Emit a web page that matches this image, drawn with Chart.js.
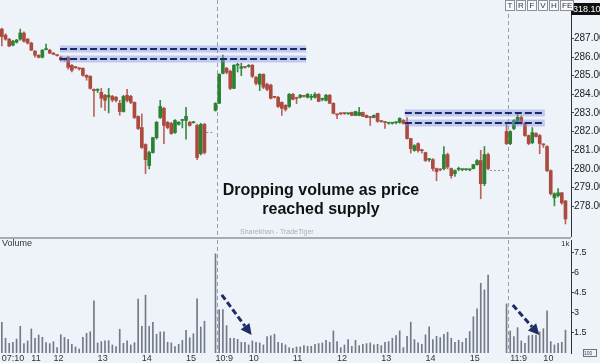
<!DOCTYPE html>
<html>
<head>
<meta charset="utf-8">
<title>Dropping volume as price reached supply</title>
<script src="https://cdn.jsdelivr.net/npm/chart.js@4.4.1/dist/chart.umd.min.js"></script>
<style>
  html, body { margin: 0; padding: 0; background: #eef3fa; overflow: hidden; }
  #wrap { position: relative; width: 600px; height: 363px; font-family: "Liberation Sans", Arial, sans-serif; }
  canvas { position: absolute; left: 0; }
  #price { top: 0; }
  #vol { top: 237px; }
  .txt { position: absolute; white-space: nowrap; }
  #sep { position: absolute; left: 0; top: 237px; width: 571px; height: 2px; background: #a7abb3; }
  #note { left: 211px; top: 180px; width: 220px; text-align: center; font-weight: bold; font-size: 16px; line-height: 19px; color: #111; }
  #brand { left: 240px; top: 228px; font-size: 7px; color: #a9adb6; }
  #volTitle { left: 2px; top: 238px; font-size: 9px; line-height: 10px; color: #333; }
  #unit { left: 561px; top: 239px; font-size: 8px; line-height: 9px; color: #333; }
  #last { left: 571px; top: 3px; width: 29px; height: 12px; background: #111; color: #fff; font-size: 9px; line-height: 12px; padding-left: 2px; box-sizing: border-box; }
  #tools { left: 505px; top: 0; display: flex; font-size: 8px; line-height: 9px; color: #333; }
  #tools span { border: 1px solid #8a8f98; background: #f6f9fd; padding: 0 1px; min-width: 6px; text-align: center; margin-right: 1px; }
  #zoomBox { left: 583px; top: 349px; width: 12px; height: 6px; border: 1px solid #6d727c; font-size: 5px; line-height: 6px; color: #444; }
</style>
</head>
<body>
<div id="wrap">
  <canvas id="price" width="600" height="237"></canvas>
  <canvas id="vol" width="600" height="126"></canvas>
  <div id="sep"></div>
  <div class="txt" id="note">Dropping volume as price<br>reached supply</div>
  <div class="txt" id="brand">Sharekhan - TradeTiger</div>
  <div class="txt" id="volTitle">Volume</div>
  <div class="txt" id="unit">1k</div>
  <div class="txt" id="last">318.10</div>
  <div class="txt" id="tools"><span>T</span><span>R</span><span>F</span><span>V</span><span>H</span><span>FE</span></div>
  <div class="txt" id="zoomBox">100</div>
</div>
<script>
// 5 minute candles, three sessions; null = empty slots between sessions
const open = [
  287.50,287.18,286.96,286.64,286.80,286.96,287.29,286.96,286.75,286.32,
  286.10,285.99,286.40,286.37,286.21,286.10,285.99,285.90,285.99,285.56,
  285.45,285.40,285.40,285.02,284.97,284.27,284.22,284.11,283.95,283.85,
  283.89,283.84,283.52,283.08,283.95,283.89,283.57,282.82,282.22,281.31,
  280.18,280.88,281.68,282.76,283.25,282.50,282.44,281.95,282.39,282.60,
  282.60,282.50,282.48,282.33,280.82,282.39,
  null,null,
  283.14,283.52,285.13,285.40,285.24,284.32,285.56,285.40,285.46,285.50,
  285.56,284.92,284.54,285.08,284.54,284.49,283.85,283.84,283.57,283.41,
  283.35,284.00,283.80,283.84,283.90,283.84,283.84,283.84,284.00,283.73,
  283.68,283.95,283.52,282.93,282.98,282.98,282.96,283.03,282.87,282.87,
  283.03,282.87,282.77,282.76,282.98,282.55,282.50,282.45,282.45,282.48,
  282.50,282.60,282.50,281.63,280.99,281.36,280.99,280.88,280.50,280.50,
  280.02,279.96,280.02,280.77,280.02,279.75,279.98,279.96,279.96,279.95,
  280.02,280.23,280.45,279.21,280.77,
  null,null,null,null,
  282.01,281.36,282.17,282.44,282.76,282.44,281.79,281.41,281.90,281.79,
  281.31,281.20,279.91,278.45,278.57,278.72,278.29,
  null
];
const high = [
  287.55,287.25,287.00,286.90,286.95,287.50,287.35,287.00,286.80,286.35,
  286.12,286.40,286.70,286.42,286.25,286.12,286.05,285.95,286.02,285.60,
  285.50,285.42,285.42,285.05,285.00,284.30,284.30,284.32,284.00,284.32,
  283.95,283.90,283.68,283.95,284.27,283.95,283.60,282.85,282.95,281.35,
  280.95,281.70,282.55,283.68,283.30,282.55,282.50,282.65,282.55,282.65,
  283.30,282.55,282.55,282.40,282.45,282.45,
  null,null,
  283.55,285.10,286.10,285.45,285.30,285.60,285.67,285.67,285.50,285.60,
  285.60,284.95,285.10,285.10,284.60,284.55,283.90,283.90,283.60,283.45,
  284.05,284.05,283.85,284.00,283.95,284.05,284.00,284.10,284.05,283.80,
  284.00,284.00,283.55,282.95,283.00,283.00,283.00,283.05,283.10,283.30,
  283.05,282.90,282.80,282.90,283.00,282.60,282.55,282.50,282.50,282.52,
  282.75,282.65,282.76,281.65,281.30,281.40,281.05,280.90,280.55,280.55,
  280.05,280.00,281.20,280.85,280.05,279.95,280.10,280.00,280.00,280.00,
  280.25,280.50,281.00,281.20,280.85,
  null,null,null,null,
  282.50,282.05,282.65,282.93,282.85,282.50,281.82,282.22,281.95,281.85,
  281.35,281.25,279.95,278.72,278.95,278.75,278.30,
  null
];
const low = [
  286.60,286.90,286.55,286.60,286.75,286.90,286.80,286.70,286.35,286.00,
  285.95,285.95,286.38,286.18,286.12,286.05,285.80,285.78,285.35,285.20,
  285.38,285.30,284.98,284.76,284.28,282.82,284.10,283.30,283.14,283.00,
  283.60,283.60,282.88,283.05,283.60,283.50,282.70,282.10,281.10,279.75,
  280.00,280.85,281.60,282.70,281.36,282.15,281.85,281.90,282.35,282.20,
  281.60,282.30,282.45,280.50,280.75,280.80,
  null,null,
  283.10,283.50,285.10,285.10,284.25,284.30,285.20,285.00,285.40,285.45,
  284.90,284.50,284.20,284.30,284.20,283.75,283.80,283.30,282.87,283.10,
  283.30,283.70,283.50,283.80,283.85,283.80,283.70,283.80,283.60,283.65,
  283.65,283.50,282.95,282.70,282.90,282.92,282.92,282.85,282.85,282.85,
  282.80,282.74,282.33,282.74,282.50,282.50,282.17,282.40,282.40,282.42,
  282.45,282.40,281.60,280.85,280.95,280.90,280.85,280.40,280.40,279.90,
  279.37,279.90,279.95,280.00,279.50,279.60,279.90,279.90,279.92,279.90,
  280.00,280.20,278.40,279.10,279.95,
  null,null,null,null,
  281.30,281.30,282.10,282.40,282.40,281.75,281.30,281.35,281.70,280.82,
  281.15,279.85,278.60,278.02,278.50,278.10,277.05,
  null
];
const close = [
  287.10,286.96,286.59,286.85,286.91,287.29,286.85,286.75,286.37,286.10,
  285.99,286.37,286.44,286.21,286.15,286.08,285.85,285.85,285.45,285.29,
  285.43,285.37,285.02,284.92,284.32,284.20,284.22,283.79,283.68,283.95,
  283.70,283.68,283.08,283.89,283.68,283.57,282.76,282.17,281.15,280.50,
  280.88,281.68,282.50,283.35,282.33,282.22,281.90,282.60,282.50,282.62,
  282.82,282.33,282.50,280.61,282.39,280.88,
  null,null,
  283.52,285.08,285.88,285.18,284.32,285.56,285.58,285.48,285.45,285.52,
  284.97,284.59,285.08,284.38,284.27,283.79,283.84,283.35,283.25,283.19,
  284.00,283.73,283.78,283.95,283.89,284.00,283.85,284.00,283.62,283.73,
  283.95,283.52,282.98,282.90,282.96,282.97,282.98,282.87,283.08,283.03,
  282.82,282.76,282.76,282.87,282.55,282.54,282.49,282.45,282.46,282.48,
  282.71,282.45,281.63,281.09,281.25,280.99,280.98,280.45,280.50,280.02,
  279.85,279.95,280.77,280.10,279.64,279.91,280.00,279.96,279.97,279.97,
  280.23,280.45,279.21,280.77,280.02,
  null,null,null,null,
  281.36,282.01,282.60,282.76,282.44,281.79,281.36,281.95,281.74,281.36,
  281.29,279.91,278.67,278.67,278.72,278.18,277.32,
  null
];
// volume in thousands
const volume = [
  2.29,1.10,0.72,0.80,1.04,1.99,0.70,0.90,1.79,1.10,
  1.34,1.17,0.77,0.70,0.85,0.40,1.37,1.17,1.02,0.65,
  0.45,0.30,1.17,1.47,1.59,3.88,0.75,0.85,0.90,0.92,
  0.60,0.47,1.77,0.72,0.90,0.60,0.77,4.01,1.99,4.31,
  1.99,2.29,1.40,1.57,1.57,0.80,0.75,0.47,0.65,0.95,
  1.69,1.14,1.44,4.03,1.94,2.37,
  null,null,
  7.39,3.23,3.23,2.04,1.10,1.10,1.02,0.80,0.80,0.60,
  0.90,0.80,0.75,0.60,1.22,1.29,1.40,0.80,0.72,0.60,
  0.40,0.35,0.45,0.45,0.55,0.50,0.50,0.65,0.70,0.75,
  0.95,0.80,1.65,0.85,0.40,0.60,1.00,0.50,0.95,0.55,
  0.65,0.70,0.75,0.60,0.65,0.55,0.80,0.85,1.10,1.30,
  1.65,0.40,1.25,2.30,1.00,0.75,0.65,1.35,1.95,1.00,
  1.25,1.15,1.40,1.55,1.10,0.80,0.95,0.80,1.10,1.60,
  2.70,3.30,5.20,4.70,5.80,
  null,null,null,null,
  3.66,1.64,1.22,1.89,0.90,0.72,1.29,1.34,1.34,1.57,
  1.81,3.15,0.85,0.60,0.72,0.80,1.70,
  null
];

// category labels: day + bar time
function session(day, h, m, n) {
  const out = [];
  for (let k = 0; k < n; k++) {
    const t = h * 60 + m + 5 * k;
    out.push(day + ' ' + String(Math.floor(t / 60)).padStart(2, '0') + ':' + String(t % 60).padStart(2, '0'));
  }
  return out;
}
const categories = [...session('07:10', 10, 50, 58), ...session('10:9', 9, 15, 79), ...session('11:9', 9, 15, 18)];

const tickIdx  = [0, 8, 14, 26, 38, 50, 58, 67, 79, 91, 103, 115, 127, 138, 147];
const tickText = ['07:10', '11', '12', '13', '14', '15', '10:9', '10', '11', '12', '13', '14', '15', '11:9', '10'];
const priceTicks = [278, 279, 280, 281, 282, 283, 284, 285, 286, 287];
const volTicks = [1.5, 3, 4.5, 6, 7.5];

// session breaks and the flat level carried through the empty slots
const dayBreaks = [58, 137];
const gapFrom = [56, 133];
const gapTo = [57, 136];
const gapLevel = [281.97, 279.96];

// supply zones (bar index range, price band)
const zoneFrom = [15.8, 109.4];
const zoneTo = [82.6, 147.4];
const zoneTop = [286.41, 282.99];
const zoneBottom = [285.89, 282.49];

// arrows on the volume pane (bar index, volume)
const arrowFrom = [[59.7, 4.33], [138.7, 3.58]];
const arrowTo = [[67.8, 1.34], [145.9, 1.34]];

Chart.defaults.font.family = '"Liberation Sans", Arial, sans-serif';

const up = i => close[i] >= open[i];
const bodyColors = open.map((o, i) => up(i) ? '#2b8233' : '#ad4a3f');
const wickColors = open.map((o, i) => up(i) ? '#3a8a40' : '#b8645b');

function yAxisFit(s) {
  s.width = 29;
  s.paddingTop = 0;
  s.paddingBottom = 0;
}

function drawBreaks(chart) {
  const { ctx, chartArea: a, scales: { x } } = chart;
  ctx.save();
  ctx.strokeStyle = '#9a9ea6';
  ctx.lineWidth = 1;
  ctx.setLineDash([4, 3]);
  dayBreaks.forEach(i => {
    const px = Math.round(x.getPixelForValue(i)) + 1.5;
    ctx.beginPath();
    ctx.moveTo(px, a.top);
    ctx.lineTo(px, a.bottom);
    ctx.stroke();
  });
  ctx.restore();
}

const priceOverlay = {
  id: 'priceOverlay',
  beforeDatasetsDraw(chart) {
    drawBreaks(chart);
    const { ctx, scales: { x, y } } = chart;
    ctx.save();
    ctx.strokeStyle = '#8d9199';
    ctx.lineWidth = 1;
    ctx.setLineDash([2, 2]);
    gapFrom.forEach((g, k) => {
      const py = Math.round(y.getPixelForValue(gapLevel[k])) + 0.5;
      ctx.beginPath();
      ctx.moveTo(x.getPixelForValue(g - 0.5), py);
      ctx.lineTo(x.getPixelForValue(gapTo[k] + 0.5), py);
      ctx.stroke();
    });
    ctx.restore();
  },
  afterDatasetsDraw(chart) {
    const { ctx, scales: { x, y } } = chart;
    ctx.save();
    zoneFrom.forEach((f, k) => {
      const x0 = x.getPixelForValue(f), x1 = x.getPixelForValue(zoneTo[k]);
      [zoneTop[k], zoneBottom[k]].forEach(p => {
        const py = Math.round(y.getPixelForValue(p));
        ctx.setLineDash([]);
        ctx.strokeStyle = 'rgba(128,146,222,0.42)';
        ctx.lineWidth = 7;
        ctx.beginPath(); ctx.moveTo(x0, py); ctx.lineTo(x1, py); ctx.stroke();
        ctx.setLineDash([7, 3]);
        ctx.strokeStyle = '#1b2868';
        ctx.lineWidth = 2;
        ctx.beginPath(); ctx.moveTo(x0, py); ctx.lineTo(x1, py); ctx.stroke();
      });
    });
    ctx.restore();
  }
};

const volOverlay = {
  id: 'volOverlay',
  beforeDatasetsDraw(chart) { drawBreaks(chart); },
  afterDatasetsDraw(chart) {
    const { ctx, scales: { x, y } } = chart;
    ctx.save();
    ctx.strokeStyle = '#1f2c66';
    ctx.fillStyle = '#1f2c66';
    arrowFrom.forEach((f, k) => {
      const x0 = x.getPixelForValue(f[0]), y0 = y.getPixelForValue(f[1]);
      const x1 = x.getPixelForValue(arrowTo[k][0]), y1 = y.getPixelForValue(arrowTo[k][1]);
      const ang = Math.atan2(y1 - y0, x1 - x0), head = 11, half = 5.5;
      const bx = x1 - head * Math.cos(ang), by = y1 - head * Math.sin(ang);
      ctx.setLineDash([6, 3]);
      ctx.lineWidth = 3;
      ctx.beginPath(); ctx.moveTo(x0, y0); ctx.lineTo(bx, by); ctx.stroke();
      ctx.setLineDash([]);
      ctx.beginPath();
      ctx.moveTo(x1, y1);
      ctx.lineTo(bx + half * Math.sin(ang), by - half * Math.cos(ang));
      ctx.lineTo(bx - half * Math.sin(ang), by + half * Math.cos(ang));
      ctx.closePath();
      ctx.fill();
    });
    ctx.restore();
  }
};

// price pane
new Chart(document.getElementById('price').getContext('2d'), {
  type: 'bar',
  data: {
    labels: categories,
    datasets: [
      {
        data: open.map((o, i) => o === null ? null : [o, close[i]]),
        backgroundColor: bodyColors,
        barThickness: 3, minBarLength: 1, grouped: false, order: 0
      },
      {
        data: low.map((l, i) => l === null ? null : [l, high[i]]),
        backgroundColor: wickColors,
        barThickness: 1, minBarLength: 1, grouped: false, order: 1
      }
    ]
  },
  options: {
    responsive: false,
    animation: false,
    layout: { padding: 0 },
    plugins: { legend: { display: false }, tooltip: { enabled: false } },
    scales: {
      x: { display: false, offset: true },
      y: {
        position: 'right', min: 276.35, max: 289.06,
        afterBuildTicks: s => { s.ticks = priceTicks.map(v => ({ value: v })); },
        afterFit: yAxisFit,
        grid: { drawOnChartArea: false, drawTicks: true, tickLength: 3, color: '#444' },
        border: { display: true, color: '#333', width: 1 },
        ticks: { padding: 0, color: '#222', font: { size: 10 }, callback: v => v.toFixed(2) }
      }
    }
  },
  plugins: [priceOverlay]
});

// volume pane
new Chart(document.getElementById('vol').getContext('2d'), {
  type: 'bar',
  data: {
    labels: categories,
    datasets: [{ data: volume, backgroundColor: '#737985', barThickness: 1 }]
  },
  options: {
    responsive: false,
    animation: false,
    layout: { padding: { top: 3 } },
    plugins: { legend: { display: false }, tooltip: { enabled: false } },
    scales: {
      x: {
        offset: true,
        grid: { display: false, drawTicks: false },
        border: { display: false },
        afterFit: s => { s.height = 10; s.paddingLeft = 0; s.paddingRight = 0; },
        ticks: {
          autoSkip: false, maxRotation: 0, minRotation: 0, align: 'start', padding: 0,
          color: '#333', font: { size: 9 },
          callback: (v, i) => { const k = tickIdx.indexOf(i); return k < 0 ? '' : tickText[k]; }
        }
      },
      y: {
        position: 'right', min: 0, max: 8.42,
        afterBuildTicks: s => { s.ticks = volTicks.map(v => ({ value: v })); },
        afterFit: yAxisFit,
        grid: { drawOnChartArea: false, drawTicks: true, tickLength: 3, color: '#444' },
        border: { display: true, color: '#333', width: 1 },
        ticks: { padding: 0, color: '#222', font: { size: 9 }, callback: v => String(v) }
      }
    }
  },
  plugins: [volOverlay]
});
</script>
</body>
</html>
